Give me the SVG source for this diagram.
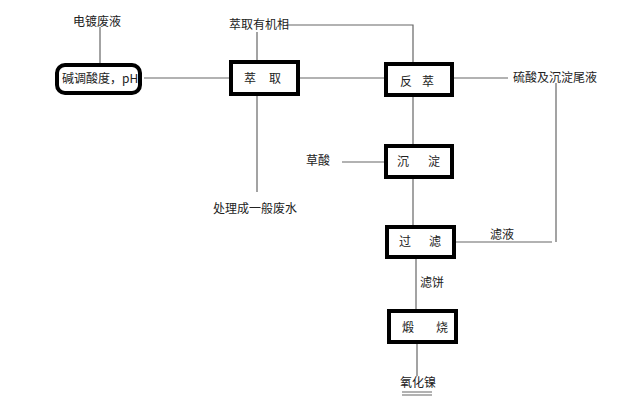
<svg xmlns="http://www.w3.org/2000/svg" width="640" height="407" viewBox="0 0 640 407">
<style>
text{font-family:"Noto Sans CJK SC","Liberation Sans",sans-serif;font-size:12px;fill:#222}
.box{fill:#fff;stroke:#000;stroke-width:4}
.ln{stroke:#666;stroke-width:1.2;fill:none}
</style>
<rect width="640" height="407" fill="#fff"/>
<g id="connectors">
<path class="ln" d="M100 27V63"/>
<path class="ln" d="M144 78H229"/>
<path class="ln" d="M286 25H413V62"/>
<path class="ln" d="M257 32V61"/>
<path class="ln" d="M257 96V192"/>
<path class="ln" d="M299 78H384"/>
<path class="ln" d="M454 78H508"/>
<path class="ln" d="M413 97V144"/>
<path class="ln" d="M342 162H384"/>
<path class="ln" d="M413 179V225"/>
<path class="ln" d="M456 242H552"/>
<path class="ln" d="M556 83V242"/>
<path class="ln" d="M416 259V309"/>
<path class="ln" d="M417 344V376"/>
<path class="ln" d="M402 392H432M402 395H432"/>
</g>
<g id="n-feed"><text x="73" y="26">电镀废液</text></g>
<g id="n-adjust"><rect class="box" x="57" y="65" width="83" height="28" rx="8"/><text x="62" y="83">碱调酸度，pH</text></g>
<g id="n-extract"><rect class="box" x="231" y="62" width="67" height="32"/><text x="244" y="83">萃</text><text x="269" y="83">取</text></g>
<g id="n-organic"><text x="229" y="29">萃取有机相</text></g>
<g id="n-waste"><text x="213" y="213">处理成一般废水</text></g>
<g id="n-strip"><rect class="box" x="386" y="64" width="66" height="31"/><text x="400" y="86">反</text><text x="422" y="86">萃</text></g>
<g id="n-acid"><text x="513" y="82">硫酸及沉淀尾液</text></g>
<g id="n-oxalic"><text x="306" y="165">草酸</text></g>
<g id="n-precip"><rect class="box" x="386" y="146" width="66" height="31"/><text x="397" y="166">沉</text><text x="428" y="166">淀</text></g>
<g id="n-filter"><rect class="box" x="387" y="227" width="67" height="30"/><text x="399" y="246">过</text><text x="429" y="246">滤</text></g>
<g id="n-filtrate"><text x="490" y="239">滤液</text></g>
<g id="n-cake"><text x="420" y="287">滤饼</text></g>
<g id="n-calcine"><rect class="box" x="389" y="311" width="67" height="31"/><text x="402" y="332">煅</text><text x="436" y="332">烧</text></g>
<g id="n-nio"><text x="400" y="387">氧化镍</text></g>
</svg>
